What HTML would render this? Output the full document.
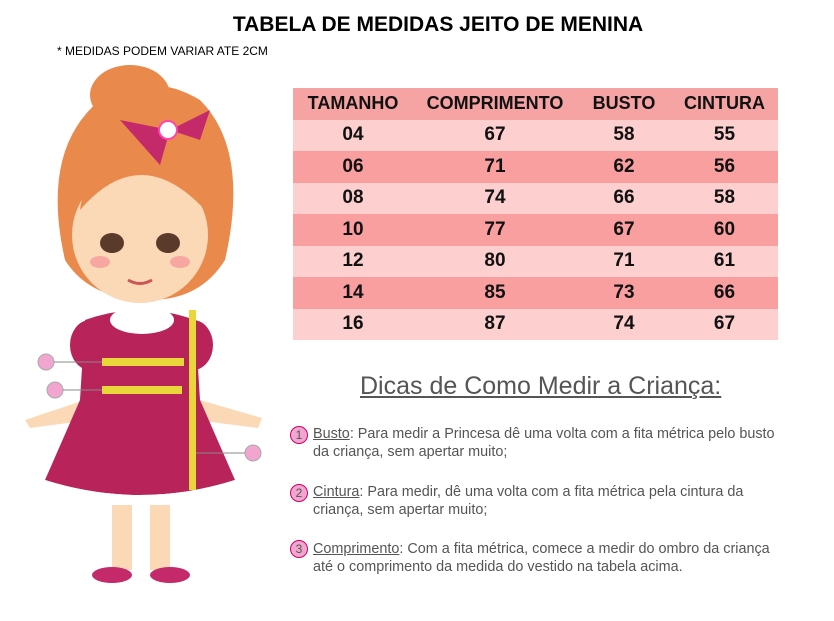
<!DOCTYPE html>
<html><head><meta charset="utf-8"><style>
body{margin:0;width:834px;height:621px;background:#fff;position:relative;overflow:hidden;font-family:"Liberation Sans",sans-serif}
.t{position:absolute;left:0;width:876px;text-align:center;top:13px;font-weight:bold;font-size:21px;color:#000}
.s{position:absolute;left:57px;top:44px;font-size:12px;color:#000}
table{position:absolute;left:293px;top:88px;width:485px;border-collapse:collapse;table-layout:fixed}
td{height:31.5px;padding:0;text-align:center;font-weight:bold;font-size:19px;color:#111}
tr.h td{background:#f6a3a3;font-size:18px}
tr.l td{background:#fdcfcf}
tr.d td{background:#f99f9f}
.dh{position:absolute;left:360px;top:372px;font-size:25px;color:#555;text-decoration:underline}
.tip{position:absolute;left:313px;font-size:14.4px;color:#555;line-height:17.5px;white-space:nowrap}
.c{position:absolute;left:290px;width:16px;height:16px;border-radius:50%;background:#f2a6cf;border:1px solid #c06;font-size:12px;text-align:center;line-height:16px;color:#555}
</style></head><body>
<div class="t">TABELA DE MEDIDAS JEITO DE MENINA</div>
<div class="s">* MEDIDAS PODEM VARIAR ATE 2CM</div>
<table>
<colgroup><col style="width:120px"><col style="width:164px"><col style="width:94px"><col style="width:107px"></colgroup>
<tr class="h"><td>TAMANHO</td><td>COMPRIMENTO</td><td>BUSTO</td><td>CINTURA</td></tr>
<tr class="l"><td>04</td><td>67</td><td>58</td><td>55</td></tr>
<tr class="d"><td>06</td><td>71</td><td>62</td><td>56</td></tr>
<tr class="l"><td>08</td><td>74</td><td>66</td><td>58</td></tr>
<tr class="d"><td>10</td><td>77</td><td>67</td><td>60</td></tr>
<tr class="l"><td>12</td><td>80</td><td>71</td><td>61</td></tr>
<tr class="d"><td>14</td><td>85</td><td>73</td><td>66</td></tr>
<tr class="l"><td>16</td><td>87</td><td>74</td><td>67</td></tr>
</table>
<div class="dh">Dicas de Como Medir a Criança:</div>
<div class="c" style="top:426px">1</div>
<div class="tip" style="top:426px"><u>Busto</u>: Para medir a Princesa dê uma volta com a fita métrica pelo busto<br>da criança, sem apertar muito;</div>
<div class="c" style="top:484px">2</div>
<div class="tip" style="top:484px"><u>Cintura</u>: Para medir, dê uma volta com a fita métrica pela cintura da<br>criança, sem apertar muito;</div>
<div class="c" style="top:540px">3</div>
<div class="tip" style="top:541px"><u>Comprimento</u>: Com a fita métrica, comece a medir do ombro da criança<br>até o comprimento da medida do vestido na tabela acima.</div>
<svg style="position:absolute;left:0;top:0" width="290" height="621">
<path d="M65 260 Q40 150 100 100 Q150 70 200 100 Q250 150 225 260 Q200 300 150 300 Q90 300 65 260Z" fill="#e98a4c"/>
<ellipse cx="130" cy="95" rx="40" ry="30" fill="#e98a4c"/>
<ellipse cx="140" cy="235" rx="68" ry="68" fill="#fcd9b6"/>
<path d="M80 210 Q140 140 205 210 Q200 165 140 160 Q85 165 80 210Z" fill="#e98a4c"/>
<ellipse cx="112" cy="243" rx="12" ry="10" fill="#5a3b2b"/>
<ellipse cx="168" cy="243" rx="12" ry="10" fill="#5a3b2b"/>
<ellipse cx="100" cy="262" rx="10" ry="6" fill="#f6a7a0"/>
<ellipse cx="180" cy="262" rx="10" ry="6" fill="#f6a7a0"/>
<path d="M128 280 Q140 287 152 280" stroke="#c55" stroke-width="3" fill="none"/>
<path d="M120 120 L170 130 L160 165 Z" fill="#c42a6a"/><path d="M170 130 L210 110 L200 140Z" fill="#c42a6a"/>
<circle cx="168" cy="130" r="9" fill="#fff" stroke="#f4a" stroke-width="2"/>
<path d="M25 420 L85 400 L90 420 L30 428Z" fill="#fcd9b6"/>
<path d="M200 400 L262 418 L258 428 L195 420Z" fill="#fcd9b6"/>
<path d="M85 320 Q140 300 195 320 L200 400 L235 480 Q140 510 45 480 L80 400 Z" fill="#b8235a"/>
<ellipse cx="90" cy="345" rx="20" ry="25" fill="#b8235a"/><ellipse cx="193" cy="345" rx="20" ry="25" fill="#b8235a"/>
<path d="M45 480 Q140 510 235 480 L230 495 Q140 520 50 495Z" fill="#fff"/>
<ellipse cx="142" cy="320" rx="32" ry="14" fill="#fff"/>
<rect x="102" y="358" width="82" height="8" fill="#e8d63a"/>
<rect x="102" y="386" width="80" height="8" fill="#e8d63a"/>
<rect x="189" y="310" width="7" height="180" fill="#e8d63a"/>
<rect x="112" y="505" width="20" height="65" fill="#fcd9b6"/><rect x="150" y="505" width="20" height="65" fill="#fcd9b6"/>
<ellipse cx="112" cy="575" rx="20" ry="8" fill="#c42a6a"/><ellipse cx="170" cy="575" rx="20" ry="8" fill="#c42a6a"/>
<circle cx="46" cy="362" r="8" fill="#f2a6cf" stroke="#aaa"/><line x1="54" y1="362" x2="102" y2="362" stroke="#888"/>
<circle cx="55" cy="390" r="8" fill="#f2a6cf" stroke="#aaa"/><line x1="63" y1="390" x2="102" y2="390" stroke="#888"/>
<circle cx="253" cy="453" r="8" fill="#f2a6cf" stroke="#aaa"/><line x1="196" y1="453" x2="245" y2="453" stroke="#888"/>
</svg>
</body></html>
